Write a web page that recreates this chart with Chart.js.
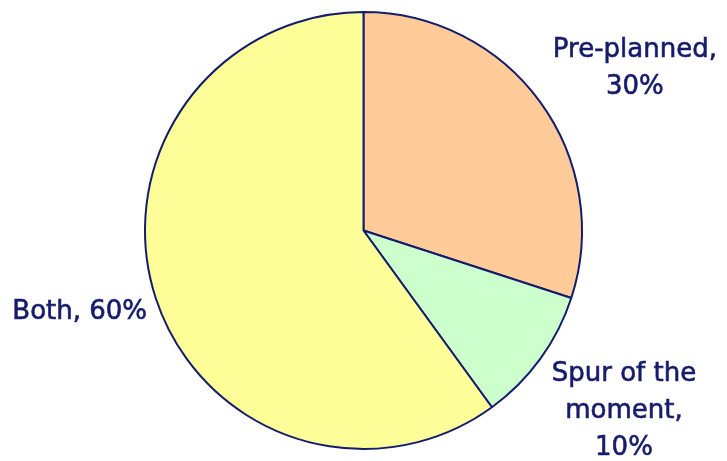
<!DOCTYPE html>
<html>
<head>
<meta charset="utf-8">
<script src="https://cdn.jsdelivr.net/npm/chart.js@4"></script>
<style>
  html, body { margin: 0; padding: 0; background: #fff; }
  #wrap { width: 727px; height: 461px; }
</style>
</head>
<body>
<div id="wrap"><canvas id="pie"></canvas></div>
<script>
// data
const labels = ['Pre-planned', 'Spur of the moment', 'Both'];
const values = [30, 10, 60];
const labelLines = [['Pre-planned,', '30%'], ['Spur of the', 'moment,', '10%'], ['Both, 60%']];

const sliceColors = ['#ffcc99', '#ccffcc', '#ffff99'];
const inkColor = '#161c6a';

// where each label block sits, as a fraction of the radius from the centre
const labelPlace = [
    { fx: 1.242, fy: -0.795 },
    { fx: 1.192, fy: 0.69 },
    { fx: -1.299, fy: 0.407 }
];

const sliceLabels = {
    id: 'sliceLabels',
    afterDatasetsDraw(chart) {
        const ctx = chart.ctx;
        const arcs = chart.getDatasetMeta(0).data;
        ctx.save();
        ctx.fillStyle = inkColor;
        ctx.strokeStyle = inkColor;
        ctx.lineWidth = 0.6;
        ctx.font = '26px "DejaVu Sans"';
        ctx.textAlign = 'center';
        ctx.textBaseline = 'alphabetic';
        arcs.forEach((arc, i) => {
            const r = arc.outerRadius;
            const x = arc.x + r * labelPlace[i].fx;
            let y = arc.y + r * labelPlace[i].fy;
            labelLines[i].forEach(line => {
                ctx.fillText(line, x, y);
                ctx.strokeText(line, x, y);
                y += 37;
            });
        });
        ctx.restore();
    }
};

new Chart(document.getElementById('pie'), {
    type: 'pie',
    data: {
        labels: labels,
        datasets: [{
            data: values,
            backgroundColor: sliceColors,
            borderColor: '#141c6e',
            borderWidth: 2,
            borderAlign: 'center'
        }]
    },
    options: {
        responsive: true,
        maintainAspectRatio: false,
        animation: false,
        layout: { padding: { top: 11, bottom: 11, left: 0, right: 0 } },
        plugins: {
            legend: { display: false },
            tooltip: { enabled: false }
        }
    },
    plugins: [sliceLabels]
});
</script>
</body>
</html>
